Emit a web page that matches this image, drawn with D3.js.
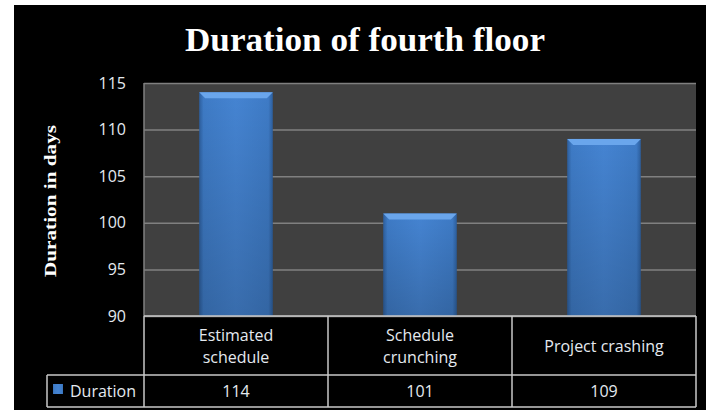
<!DOCTYPE html>
<html>
<head>
<meta charset="utf-8">
<script src="https://cdnjs.cloudflare.com/ajax/libs/d3/7.8.5/d3.min.js"></script>
<style>
  body { margin: 0; background: #fff; }
  svg { display: block; }
</style>
</head>
<body>
<div class="g-chart"></div>
<script>
var categories = [["Estimated", "schedule"], ["Schedule", "crunching"], ["Project crashing"]];
var durations = [114, 101, 109];
var seriesName = "Duration";
var yTicks = [90, 95, 100, 105, 110, 115];

var width = 706, height = 410;
var plot = {left: 144, right: 696, top: 83, bottom: 316};
var tableMid = 375, tableBottom = 407, legendLeft = 47;

var svg = d3.select(".g-chart").append("svg")
    .attr("width", width)
    .attr("height", height);

var defs = svg.append("defs");
var grad = defs.append("linearGradient").attr("id", "barGrad")
    .attr("x1", "0").attr("x2", "1").attr("y1", "0").attr("y2", "0");
grad.append("stop").attr("offset", "0%").attr("stop-color", "#2d5f9e");
grad.append("stop").attr("offset", "6%").attr("stop-color", "#3e7bc6");
grad.append("stop").attr("offset", "50%").attr("stop-color", "#4584d2");
grad.append("stop").attr("offset", "94%").attr("stop-color", "#3e7bc6");
grad.append("stop").attr("offset", "100%").attr("stop-color", "#2d5f9e");
var vgrad = defs.append("linearGradient").attr("id", "barShade")
    .attr("x1", "0").attr("x2", "0").attr("y1", "0").attr("y2", "1");
vgrad.append("stop").attr("offset", "0%").attr("stop-color", "#000").attr("stop-opacity", 0);
vgrad.append("stop").attr("offset", "100%").attr("stop-color", "#000").attr("stop-opacity", 0.18);

// black chart background
svg.append("rect")
    .attr("x", 14).attr("y", 5)
    .attr("width", width - 14).attr("height", height - 5)
    .attr("fill", "#000");

var x = d3.scaleBand()
    .domain(d3.range(categories.length))
    .range([plot.left, plot.right])
    .padding(0);

var y = d3.scaleLinear()
    .domain([90, 115])
    .range([plot.bottom, plot.top]);

// plot area
svg.append("rect")
    .attr("x", plot.left).attr("y", plot.top)
    .attr("width", plot.right - plot.left).attr("height", plot.bottom - plot.top)
    .attr("fill", "#404040");

// gridlines via axis
svg.append("g")
    .attr("class", "grid")
    .attr("transform", `translate(${plot.left},0)`)
    .call(d3.axisLeft(y).tickValues(yTicks).tickSize(-(plot.right - plot.left)).tickFormat(""))
    .call(g => g.select(".domain").remove())
    .call(g => g.selectAll("line").attr("stroke", "#808080").attr("stroke-width", 1.5));

svg.append("line")
    .attr("x1", plot.left).attr("x2", plot.left)
    .attr("y1", plot.top).attr("y2", plot.bottom)
    .attr("stroke", "#808080").attr("stroke-width", 1.5);

var font = "'Open Sans', Lato, sans-serif";
var cellText = "#e4e9ef";

// y axis labels
svg.append("g")
    .attr("transform", `translate(${plot.left - 18},0)`)
    .call(d3.axisLeft(y).tickValues(yTicks).tickSize(0).tickPadding(0))
    .call(g => g.select(".domain").remove())
    .call(g => g.selectAll("text")
        .attr("fill", cellText)
        .attr("font-family", font)
        .attr("font-size", 16));

// bars
var barW = x.bandwidth() * 0.4;
var bars = svg.append("g").selectAll("g.bar")
    .data(durations)
    .enter().append("g")
    .attr("class", "bar");

bars.append("rect")
    .attr("x", (d, i) => x(i) + (x.bandwidth() - barW) / 2)
    .attr("y", d => y(d))
    .attr("width", barW)
    .attr("height", d => y(90) - y(d))
    .attr("fill", "url(#barGrad)");
bars.append("rect")
    .attr("x", (d, i) => x(i) + (x.bandwidth() - barW) / 2)
    .attr("y", d => y(d))
    .attr("width", barW)
    .attr("height", d => y(90) - y(d))
    .attr("fill", "url(#barShade)");
// top bevel
bars.append("path")
    .attr("d", (d, i) => {
        var x0 = x(i) + (x.bandwidth() - barW) / 2, x1 = x0 + barW, y0 = y(d);
        return `M${x0},${y0}L${x1},${y0}L${x1 - 6},${y0 + 6}L${x0 + 6},${y0 + 6}Z`;
    })
    .attr("fill", "#6aa6ec");

// title
svg.append("text")
    .attr("x", 365).attr("y", 51)
    .attr("text-anchor", "middle")
    .attr("fill", "#fff")
    .attr("font-family", "'Liberation Serif', 'Times New Roman', serif")
    .attr("font-weight", "bold")
    .attr("font-size", 33)
    .attr("textLength", 360)
    .attr("lengthAdjust", "spacingAndGlyphs")
    .text("Duration of fourth floor");

// y axis title
svg.append("text")
    .attr("transform", "translate(56,201) rotate(-90)")
    .attr("text-anchor", "middle")
    .attr("fill", "#fff")
    .attr("font-family", "'Liberation Serif', 'Times New Roman', serif")
    .attr("font-weight", "bold")
    .attr("font-size", 16)
    .attr("textLength", 152)
    .attr("lengthAdjust", "spacingAndGlyphs")
    .text("Duration in days");

// data table
var table = svg.append("g")
    .attr("stroke", "#c8c8c8").attr("stroke-width", 1.5).attr("fill", "none");
table.append("line").attr("x1", plot.left).attr("x2", plot.right).attr("y1", plot.bottom).attr("y2", plot.bottom);
table.append("line").attr("x1", legendLeft).attr("x2", plot.right).attr("y1", tableMid).attr("y2", tableMid);
table.append("line").attr("x1", legendLeft).attr("x2", plot.right).attr("y1", tableBottom).attr("y2", tableBottom);
table.append("line").attr("x1", legendLeft).attr("x2", legendLeft).attr("y1", tableMid).attr("y2", tableBottom);
table.selectAll("line.col")
    .data(d3.range(categories.length + 1))
    .enter().append("line")
    .attr("class", "col")
    .attr("x1", i => i < categories.length ? x(i) : plot.right)
    .attr("x2", i => i < categories.length ? x(i) : plot.right)
    .attr("y1", plot.bottom).attr("y2", tableBottom);

svg.append("g").selectAll("text.cat")
    .data(categories)
    .enter().append("text")
    .attr("class", "cat")
    .attr("text-anchor", "middle")
    .attr("fill", cellText)
    .attr("font-family", font)
    .attr("font-size", 16)
    .attr("x", (d, i) => x(i) + x.bandwidth() / 2)
    .attr("y", d => d.length > 1 ? 341 : 352)
    .selectAll("tspan")
    .data(d => d)
    .enter().append("tspan")
    .attr("x", function() { return this.parentNode.getAttribute("x"); })
    .attr("dy", (d, i) => i ? 22 : 0)
    .text(d => d);

svg.append("g").selectAll("text.val")
    .data(durations)
    .enter().append("text")
    .attr("class", "val")
    .attr("text-anchor", "middle")
    .attr("fill", cellText)
    .attr("font-family", font)
    .attr("font-size", 16)
    .attr("x", (d, i) => x(i) + x.bandwidth() / 2)
    .attr("y", 397)
    .text(d => d);

// legend key
svg.append("rect")
    .attr("x", 53).attr("y", 384).attr("width", 10).attr("height", 10)
    .attr("fill", "url(#barGrad)");
svg.append("text")
    .attr("x", 70).attr("y", 397)
    .attr("fill", cellText)
    .attr("font-family", font)
    .attr("font-size", 16)
    .text(seriesName);
</script>
</body>
</html>
